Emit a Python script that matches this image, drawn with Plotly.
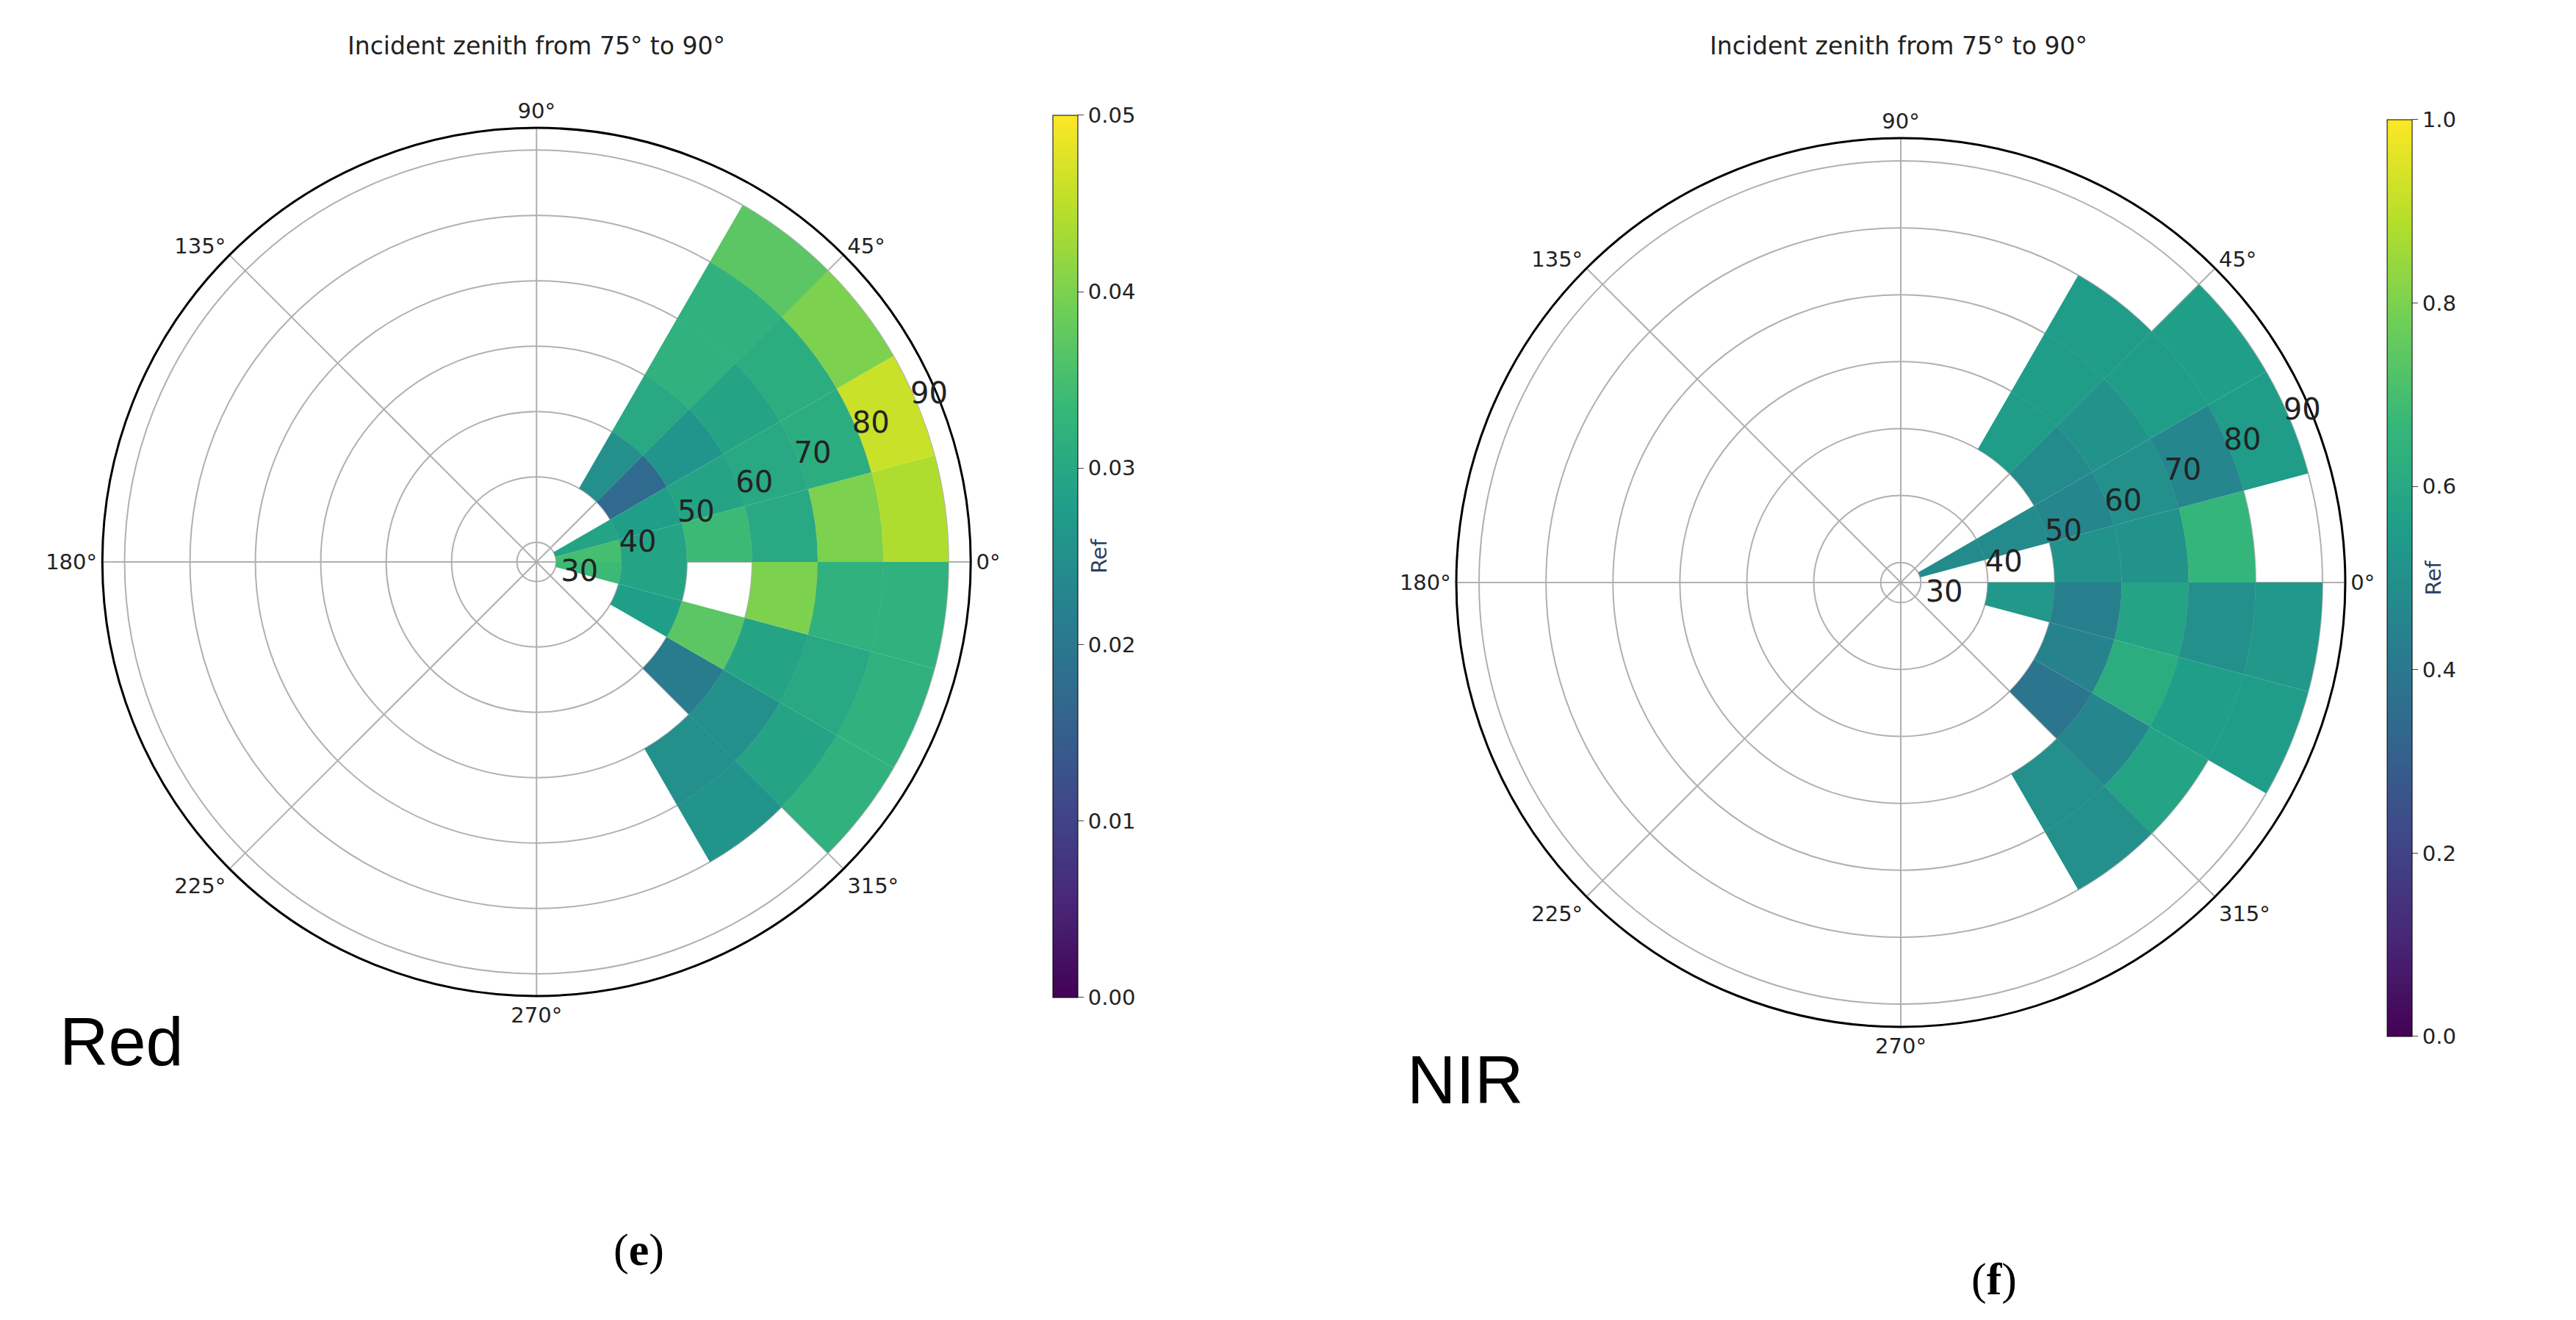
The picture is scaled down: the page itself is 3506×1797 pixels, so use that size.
import plotly.graph_objects as go

sectors = [-52.5, -37.5, -22.5, -7.5, 7.5, 22.5, 37.5, 52.5]
rings = [30, 40, 50, 60, 70, 80]
N = None
# rows: sectors (same order as above), columns: rings 30..80 (bin start)
red_vals = [
    [N, N, N, 0.025, 0.026, N],
    [N, N, 0.021, 0.025, 0.029, 0.032],
    [N, 0.028, 0.037, 0.029, 0.030, 0.032],
    [0.034, 0.029, N, 0.040, 0.032, 0.032],
    [0.035, 0.029, 0.034, 0.030, 0.040, 0.044],
    [0.029, 0.028, 0.029, 0.030, 0.031, 0.046],
    [N, 0.017, 0.026, 0.029, 0.031, 0.040],
    [N, 0.025, 0.030, 0.032, 0.032, 0.037],
]
nir_vals = [
    [N, N, N, 0.50, 0.50, N],
    [N, N, 0.39, 0.46, 0.58, N],
    [N, N, 0.45, 0.62, 0.56, 0.55],
    [N, 0.53, 0.43, 0.58, 0.50, 0.53],
    [N, N, 0.51, 0.51, 0.66, N],
    [0.48, 0.48, 0.46, 0.50, 0.46, 0.55],
    [N, N, 0.48, 0.51, 0.55, 0.56],
    [N, N, 0.55, 0.55, 0.55, N],
]
title_text = "Incident zenith from 75° to 90°"
angle_ticks = [0, 45, 90, 135, 180, 225, 270, 315]
radial_ticks = [30, 40, 50, 60, 70, 80, 90]


def flatten(vals):
    th, base, c = [], [], []
    for s, row in zip(sectors, vals):
        for r0, v in zip(rings, row):
            if v is not None:
                th.append(s); base.append(r0); c.append(v)
    return th, base, c


fig = go.Figure()
for vals, pname, cax in [(red_vals, "polar", "coloraxis"), (nir_vals, "polar2", "coloraxis2")]:
    th, base, c = flatten(vals)
    fig.add_trace(go.Barpolar(theta=th, base=base, r=[10] * len(th), width=[15] * len(th),
                              marker=dict(color=c, coloraxis=cax, line=dict(width=0)),
                              subplot=pname, opacity=1))

F = "DejaVu Sans"
def polar_layout(dom_x, dom_y):
    return dict(
        domain=dict(x=dom_x, y=dom_y), bgcolor="white", hole=0,
        radialaxis=dict(range=[27, 93.4], tickvals=radial_ticks, angle=27, tickangle=27,
                        showline=False, ticks="", gridcolor="#b0b0b0", gridwidth=2,
                        tickfont=dict(size=40, color="#222", family=F), layer="above traces"),
        angularaxis=dict(tickvals=angle_ticks, ticktext=[f"{a}°" for a in angle_ticks],
                         direction="counterclockwise", rotation=0, linecolor="black", linewidth=3,
                         gridcolor="#b0b0b0", gridwidth=2, ticks="",
                         tickfont=dict(size=29, color="#222", family=F), layer="above traces"),
    )

def ann(text, x, y, size, family, color="black"):
    return dict(text=text, x=x / 3506, y=1 - y / 1797, xref="paper", yref="paper",
                xanchor="center", yanchor="middle", showarrow=False,
                font=dict(size=size, family=family, color=color))

fig.update_layout(
    width=3506, height=1797, paper_bgcolor="white", showlegend=False,
    margin=dict(l=0, r=0, t=0, b=0),
    polar=polar_layout([0.0374, 0.3746], [0.2499, 0.9076]),
    polar2=polar_layout([0.563, 0.9082], [0.2265, 0.8998]),
    coloraxis=dict(colorscale="Viridis", cmin=0, cmax=0.05,
                   colorbar=dict(x=0.4036, xanchor="left", y=0.583, yanchor="middle",
                                 lenmode="pixels", len=1221, thickness=34, outlinewidth=1,
                                 outlinecolor="black", tickvals=[0, 0.01, 0.02, 0.03, 0.04, 0.05],
                                 tickformat=".2f", ticks="outside", ticklen=8,
                                 tickfont=dict(size=29, family=F, color="#222"),
                                 title=dict(text="Ref", side="right", font=dict(size=29, family=F)))),
    coloraxis2=dict(colorscale="Viridis", cmin=0, cmax=1,
                    colorbar=dict(x=0.9215, xanchor="left", y=0.5665, yanchor="middle",
                                  lenmode="pixels", len=1268, thickness=34, outlinewidth=1,
                                  outlinecolor="black", tickvals=[0, 0.2, 0.4, 0.6, 0.8, 1.0],
                                  tickformat=".1f", ticks="outside", ticklen=8,
                                  tickfont=dict(size=29, family=F, color="#222"),
                                  title=dict(text="Ref", side="right", font=dict(size=29, family=F)))),
    annotations=[
        ann(title_text, 722, 55, 33, F, "#222"),
        ann(title_text, 2576, 55, 33, F, "#222"),
        ann("Red", 157, 1410, 92, "Liberation Sans"),
        ann("NIR", 1986, 1462, 92, "Liberation Sans"),
        ann("(<b>e</b>)", 861, 1693, 62, "Liberation Serif"),
        ann("(<b>f</b>)", 2706, 1733, 62, "Liberation Serif"),
    ],
)
fig.write_html("out.html")
